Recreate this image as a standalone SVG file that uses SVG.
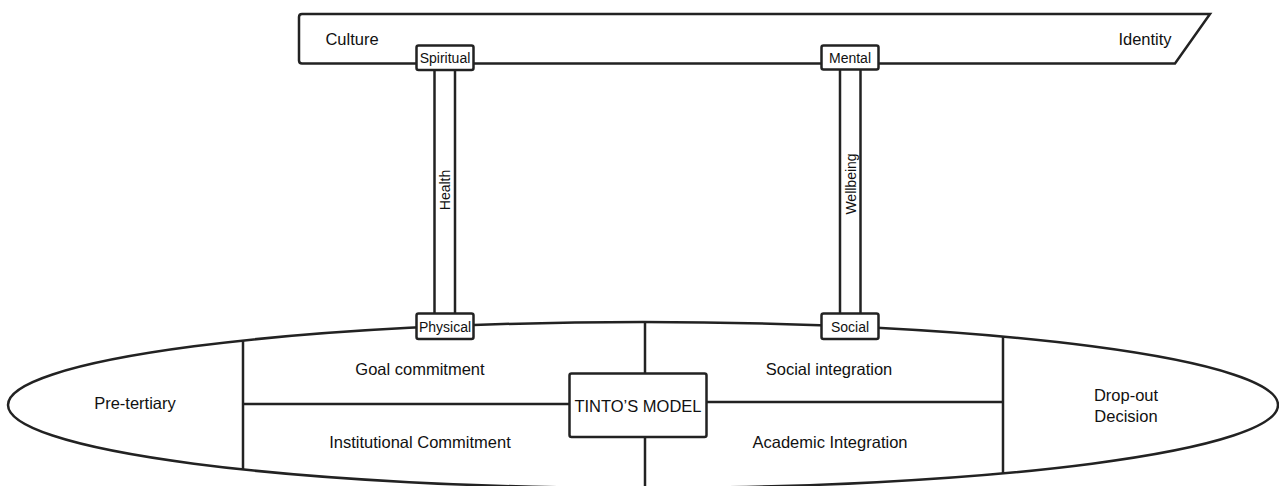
<svg xmlns="http://www.w3.org/2000/svg" width="1279" height="486" viewBox="0 0 1279 486">
<style>
.ln{fill:none;stroke:#222;stroke-width:2.5}
.bx{fill:#fff;stroke:#222;stroke-width:2.5}
.t{font-family:"Liberation Sans",Arial,sans-serif;font-size:16.5px;fill:#111;text-anchor:middle}
.s{font-family:"Liberation Sans",Arial,sans-serif;font-size:14px;fill:#111;text-anchor:middle}
.v{font-family:"Liberation Sans",Arial,sans-serif;font-size:14px;fill:#111;text-anchor:middle}
</style>
<rect width="1279" height="486" fill="#fff"/>
<g id="banner">
<path class="bx" d="M302 14 L1210 14 L1175 63.5 L302 63.5 Q299 63.5 299 60.5 L299 17 Q299 14 302 14 Z"/>
<text class="t" x="352" y="45">Culture</text>
<text class="t" x="1145" y="45">Identity</text>
</g>
<g id="ellipse">
<ellipse class="ln" cx="643" cy="405" rx="635" ry="83"/>
<text class="t" x="135" y="409">Pre-tertiary</text>
<text class="t" x="1126" y="401">Drop-out</text>
<text class="t" x="1126" y="422">Decision</text>
<text class="t" x="420" y="375">Goal commitment</text>
<text class="t" x="829" y="375">Social integration</text>
<text class="t" x="420" y="448">Institutional Commitment</text>
<text class="t" x="830" y="448">Academic Integration</text>
</g>
<g id="connectors">
<line class="ln" x1="243" y1="340" x2="243" y2="470"/>
<line class="ln" x1="1003" y1="336" x2="1003" y2="474"/>
<line class="ln" x1="243" y1="404" x2="570" y2="404"/>
<line class="ln" x1="707" y1="402" x2="1003" y2="402"/>
<line class="ln" x1="645" y1="322" x2="645" y2="373"/>
<line class="ln" x1="645" y1="437" x2="645" y2="490"/>
<line class="ln" x1="434.5" y1="70" x2="434.5" y2="313"/>
<line class="ln" x1="455" y1="70" x2="455" y2="313"/>
<line class="ln" x1="840" y1="69" x2="840" y2="313"/>
<line class="ln" x1="860.5" y1="69" x2="860.5" y2="313"/>
<text class="v" transform="translate(450 190) rotate(-90)" font-size="15">Health</text>
<text class="v" transform="translate(855.5 184) rotate(-90)">Wellbeing</text>
</g>
<g id="spiritual">
<rect class="bx" x="416.5" y="45.5" width="57" height="24.5" rx="2"/>
<text class="s" x="445" y="62.5">Spiritual</text>
</g>
<g id="mental">
<rect class="bx" x="821.5" y="45.5" width="57" height="24" rx="2"/>
<text class="s" x="850" y="62.5">Mental</text>
</g>
<g id="physical">
<rect class="bx" x="416.5" y="313.5" width="57" height="25.5" rx="2"/>
<text class="s" x="445" y="332">Physical</text>
</g>
<g id="social">
<rect class="bx" x="821.5" y="313.5" width="57" height="25.5" rx="2"/>
<text class="s" x="850" y="332">Social</text>
</g>
<g id="tinto">
<rect class="bx" x="569.5" y="373.5" width="137" height="63.5" rx="2"/>
<text class="t" x="638" y="412">TINTO’S MODEL</text>
</g>
</svg>
